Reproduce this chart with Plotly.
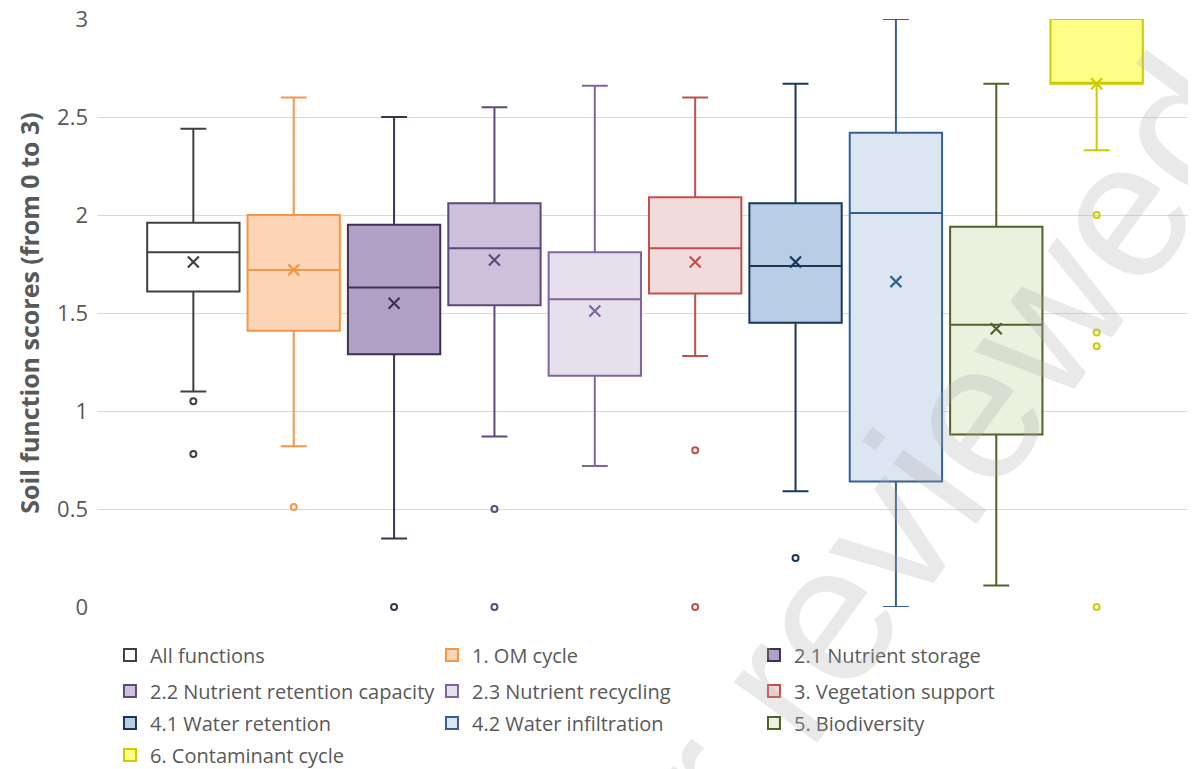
import plotly.graph_objects as go

names = ["All functions", "1. OM cycle", "2.1 Nutrient storage",
         "2.2 Nutrient retention capacity", "2.3 Nutrient recycling", "3. Vegetation support",
         "4.1 Water retention", "4.2 Water infiltration", "5. Biodiversity",
         "6. Contaminant cycle"]
upper = [2.44, 2.60, 2.50, 2.55, 2.66, 2.60, 2.67, 3.00, 2.67, 3.00]
q3 = [1.96, 2.00, 1.95, 2.06, 1.81, 2.09, 2.06, 2.42, 1.94, 3.00]
median = [1.81, 1.72, 1.63, 1.83, 1.57, 1.83, 1.74, 2.01, 1.44, 2.67]
q1 = [1.61, 1.41, 1.29, 1.54, 1.18, 1.60, 1.45, 0.64, 0.88, 2.67]
lower = [1.10, 0.82, 0.35, 0.87, 0.72, 1.28, 0.59, 0.00, 0.11, 2.33]
means = [1.76, 1.72, 1.55, 1.77, 1.51, 1.76, 1.76, 1.66, 1.42, 2.67]
outliers = [[1.05, 0.78], [0.51], [0.0], [0.50, 0.0], [], [0.80, 0.0], [0.25], [], [],
            [2.0, 1.40, 1.33, 0.0]]

line_colors = ["#404040", "#F79646", "#3F3151", "#5F497A", "#8064A2", "#C0504D",
               "#17375E", "#366092", "#4F6228", "#CCCC00"]
fill_colors = ["#FFFFFF", "#FBD5B5", "#B2A1C7", "#CCC1DA", "#E5E0EC", "#F2DCDB",
               "#B9CDE5", "#DCE6F2", "#EBF1DE", "#FFFF88"]
legend_ids = ["legend", "legend", "legend", "legend2", "legend2", "legend2",
              "legend3", "legend3", "legend3", "legend4"]

FONT = "Open Sans"
TXT = "#595959"

fig = go.Figure()
for i, n in enumerate(names):
    fig.add_trace(go.Box(
        x=[i], q1=[q1[i]], median=[median[i]], q3=[q3[i]],
        lowerfence=[lower[i]], upperfence=[upper[i]],
        name=n, width=0.92, whiskerwidth=0.28, legend=legend_ids[i],
        line=dict(color=line_colors[i], width=2), fillcolor=fill_colors[i],
        boxpoints=False, hoverinfo="skip"))
for i, n in enumerate(names):
    fig.add_trace(go.Scatter(
        x=[i], y=[means[i]], mode="markers", showlegend=False, hoverinfo="skip",
        marker=dict(symbol="x-thin", size=11, line=dict(width=2.2, color=line_colors[i]),
                    color=line_colors[i]), cliponaxis=False))
    if outliers[i]:
        fig.add_trace(go.Scatter(
            x=[i] * len(outliers[i]), y=outliers[i], mode="markers", showlegend=False,
            hoverinfo="skip", cliponaxis=False,
            marker=dict(symbol="circle-open", size=6, color=line_colors[i],
                        line=dict(width=2, color=line_colors[i]))))

fig.add_annotation(text="peer reviewed", xref="paper", yref="paper", x=0.688, y=0.049,
                   xanchor="center", yanchor="middle", textangle=-54, showarrow=False,
                   font=dict(family="Liberation Sans", size=195, color="rgba(170,170,170,0.26)"))

legend_common = dict(orientation="h", xanchor="left", yanchor="middle", x=0.0118,
                     entrywidth=277, entrywidthmode="pixels",
                     font=dict(family=FONT, size=20, color=TXT), itemwidth=30,
                     traceorder="normal", bgcolor="rgba(0,0,0,0)")
row_y = [-0.0816, -0.1429, -0.1973, -0.2517]

fig.update_layout(
    width=1188, height=769,
    margin=dict(l=89, r=0, t=11, b=170, autoexpand=False),
    paper_bgcolor="white", plot_bgcolor="white",
    boxmode="overlay",
    font=dict(family=FONT, color=TXT),
    xaxis=dict(range=[-0.96, 9.99], showticklabels=False, showgrid=False, zeroline=False,
               ticks="", automargin=False),
    yaxis=dict(range=[0, 3], dtick=0.5, showgrid=True, gridcolor="#D9D9D9", gridwidth=1,
               zeroline=False, tickfont=dict(family=FONT, size=22, color=TXT),
               ticklabelstandoff=8, ticklabeloverflow="allow", automargin=False,
               title=dict(text="<b>Soil function scores (from 0 to 3)</b>",
                          font=dict(family=FONT, size=25, color=TXT), standoff=10)),
    legend=dict(legend_common, y=row_y[0]),
    legend2=dict(legend_common, y=row_y[1]),
    legend3=dict(legend_common, y=row_y[2]),
    legend4=dict(legend_common, y=row_y[3]),
    showlegend=True,
)
fig.write_html("out.html")
